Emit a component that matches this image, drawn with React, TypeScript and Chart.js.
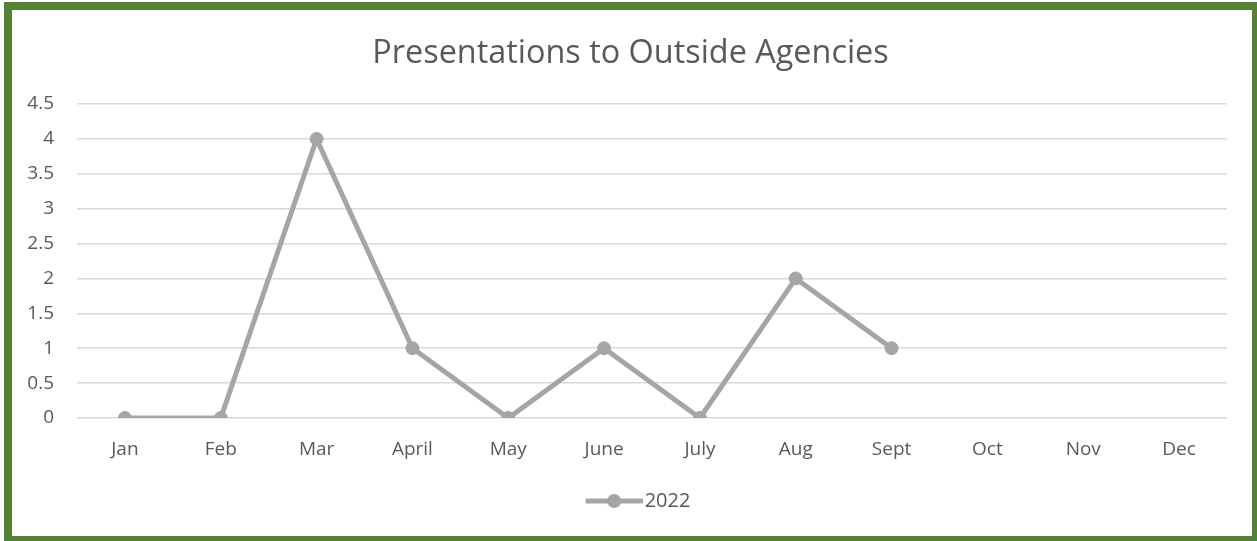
import React, { useEffect, useRef } from "react";
import { Chart, registerables } from "chart.js";

Chart.register(...registerables);

const months = ["Jan", "Feb", "Mar", "April", "May", "June", "July", "Aug", "Sept", "Oct", "Nov", "Dec"];
const values2022 = [0, 0, 4, 1, 0, 1, 0, 2, 1, null, null, null];
const seriesLabel = "2022";
const chartTitle = "Presentations to Outside Agencies";

const LINE = "#a5a5a5";
const TEXT = "#595959";
const GRID = "#d9d9d9";
const FONT = "'Open Sans', sans-serif";

function makeLegendSymbol(): HTMLCanvasElement {
  const c = document.createElement("canvas");
  c.width = 102;
  c.height = 16;
  const ctx = c.getContext("2d")!;
  ctx.strokeStyle = LINE;
  ctx.lineWidth = 5;
  ctx.beginPath();
  ctx.moveTo(45, 8);
  ctx.lineTo(102, 8);
  ctx.stroke();
  ctx.fillStyle = LINE;
  ctx.beginPath();
  ctx.arc(73.5, 8, 7, 0, Math.PI * 2);
  ctx.fill();
  return c;
}

const titlePlugin = {
  id: "centeredTitle",
  afterDraw(chart: any) {
    const ctx = chart.ctx;
    ctx.save();
    ctx.fillStyle = TEXT;
    ctx.font = `normal 32.4px ${FONT}`;
    ctx.textAlign = "center";
    ctx.textBaseline = "middle";
    ctx.fillText(chartTitle, 630.5, 54);
    ctx.restore();
  },
};

export default function App() {
  const ref = useRef<HTMLCanvasElement | null>(null);

  useEffect(() => {
    if (!ref.current) return;
    const symbol = makeLegendSymbol();
    const chart = new Chart(ref.current, {
      type: "line",
      data: {
        labels: months,
        datasets: [
          {
            label: seriesLabel,
            data: values2022,
            borderColor: LINE,
            backgroundColor: LINE,
            borderWidth: 5,
            pointRadius: 6.5,
            pointBorderWidth: 1,
            pointBackgroundColor: LINE,
            pointBorderColor: LINE,
            tension: 0,
            spanGaps: false,
          },
        ],
      },
      plugins: [titlePlugin],
      options: {
        responsive: false,
        animation: false,
        layout: { padding: { left: 12, right: 30, top: 104, bottom: 20 } },
        plugins: {
          tooltip: { enabled: false },
          title: { display: false },
          legend: {
            position: "bottom",
            labels: {
              color: TEXT,
              font: { family: FONT, size: 20 },
              usePointStyle: true,
              pointStyleWidth: 86,
              padding: 10,
              generateLabels: (ch: any) => {
                const base = Chart.defaults.plugins.legend.labels.generateLabels(ch);
                return base.map((l: any) => ({ ...l, pointStyle: symbol, lineWidth: 0 }));
              },
            },
          },
        },
        scales: {
          x: {
            offset: true,
            grid: { display: false, drawTicks: false, offset: true },
            border: { display: false },
            ticks: { color: TEXT, font: { family: FONT, size: 19 }, padding: 20, maxRotation: 0, autoSkip: false },
            afterFit: (s: any) => {
              s.height = 63;
            },
          },
          y: {
            min: 0,
            max: 4.5,
            grid: { color: GRID, lineWidth: 1.5, drawTicks: false },
            border: { display: false },
            ticks: {
              stepSize: 0.5,
              color: TEXT,
              font: { family: FONT, size: 19 },
              padding: 23,
              callback: (v: any) => String(Number(v)),
            },
            afterFit: (s: any) => {
              s.width = 65;
            },
          },
        },
      },
    });
    return () => chart.destroy();
  }, []);

  return (
    <div style={{ position: "fixed", left: 0, top: 0, width: 1257, height: 541, background: "#fff", overflow: "hidden" }}>
      <canvas ref={ref} width={1257} height={541} style={{ position: "absolute", left: 0, top: 0, width: 1257, height: 541 }} />
      <div
        style={{
          position: "absolute",
          left: 4,
          top: 2,
          width: 1256,
          height: 542,
          boxSizing: "border-box",
          border: "8px solid #548235",
          pointerEvents: "none",
        }}
      />
    </div>
  );
}
